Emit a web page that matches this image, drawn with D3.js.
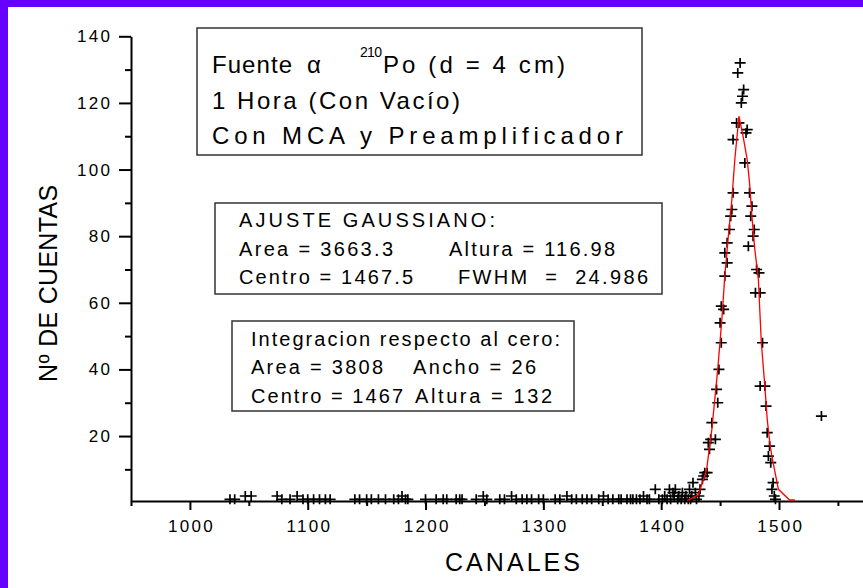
<!DOCTYPE html>
<html>
<head>
<meta charset="utf-8">
<script src="https://cdn.jsdelivr.net/npm/d3@7"></script>
<style>
  html, body { margin: 0; padding: 0; background: #fff; }
  svg { display: block; font-family: "Liberation Sans", Arial, sans-serif; }
  .lbl { white-space: pre; }
</style>
</head>
<body>
<svg id="chart" width="863" height="588"></svg>
<script>
// espectro alfa Po-210, cuentas por canal
var canal = [1034,1038,1047,1052,1074,1078,1085,1091,1096,1100,1105,1110,1115,1119,
  1140,1144,1150,1154,1160,1166,1173,1177,1180,1183,1185,1200,1209,1215,1218,1226,1229,1231,
  1243,1249,1252,1263,1267,1273,1277,1282,1286,1290,1296,1300,1310,1314,1320,1324,1328,1333,
  1337,1341,1347,1351,1355,1359,1364,1366,1371,1374,1376,1379,1382,1385,1388,1390,
  1395,1398,1401,1403,1405,1407,1408,1410,1411,1412,1414,1415,1417,1418,1420,1421,1423,1424,
  1425,1426,1427,1429,1430,1432,1433,1435,1436,1437,1439,1440,1441,1442,1443,1446,1447,1448,
  1449,1450,1451,1451,1453,1454,1454,1456,1456,1458,1459,1460,1461,1461,1464,1465,1466,1467,
  1468,1469,1470,1471,1472,1473,1474,1475,1476,1477,1478,1479,1480,1481,1483,1484,1486,1484,
  1488,1489,1490,1491,1492,1493,1494,1495,1496,1497,1536];
var cuentas = [1,1,2,2,2,1,1,2,1,1,1,1,1,1,
  1,1,1,1,1,1,1,1,2,1,1,1,1,1,1,1,1,1,
  1,2,1,1,1,2,1,1,1,1,1,1,1,1,2,1,1,1,
  1,1,1,2,1,1,1,1,1,1,1,1,1,2,1,1,
  4,1,1,2,1,4,1,3,2,4,1,2,1,3,1,2,1,4,
  1,2,6,3,1,2,4,7,8,9,9,18,16,19,24,19,34,30,
  40,54,48,59,58,68,75,72,78,82,86,88,93,109,114,129,114,132,
  120,122,124,102,111,112,77,93,86,89,80,82,63,70,69,63,48,35,
  35,29,21,14,17,12,4,6,2,1,26];

// curva del ajuste gaussiano
var ajusteCanal = [1422,1431.5,1438.5,1443,1448,1451.5,1454,1457,1460,1462.5,1466,
  1469.5,1473,1475,1477,1479.5,1482.5,1485,1488,1490,1492.5,1495,1499.5,1509,1513.5];
var ajusteCuentas = [0.6,2.3,9.8,22,40,55,68,80,91,103,116,
  110,103,96,86,76,67,48,35,25,17,12,4,0.8,0.8];

var xMajor = [1000,1100,1200,1300,1400,1500];
var xMinor = [950,1050,1150,1250,1350,1450,1550];
var yMajor = [20,40,60,80,100,120,140];
var yMinor = [10,30,50,70,90,110,130];

var svg = d3.select("#chart");

svg.append("rect").attr("width",863).attr("height",588).attr("fill","#fff");
svg.append("rect").attr("width",863).attr("height",7).attr("fill","#6600ff");
svg.append("rect").attr("width",8).attr("height",588).attr("fill","#6600ff");

var x = d3.scaleLinear().domain([950,1571.3]).range([131,863]);
var y = d3.scaleLinear().domain([0.5,140]).range([501,36.3]);

// cajas de texto
function caja(x0,y0,w,h){
    svg.append("rect")
        .attr("x",x0).attr("y",y0)
        .attr("width",w).attr("height",h)
        .attr("fill","#fff")
        .attr("stroke","#333")
        .attr("stroke-width",1.5);
}
function texto(t,x0,y0,size,len){
    var s = svg.append("text")
        .attr("class","lbl")
        .attr("x",x0).attr("y",y0)
        .attr("font-size",size+"px")
        .attr("fill","#000")
        .text(t);
    if(len) s.attr("textLength",len).attr("lengthAdjust","spacing");
    return s;
}

caja(197,28,445,127);
texto("Fuente",212,73,24,80);
texto("\u03b1",307,73,24);
texto("210",360,57,14,22);
texto("Po (d = 4 cm)",383,73,24,182);
texto("1 Hora (Con Vac\u00edo)",212,109,24,248);
texto("Con MCA y Preamplificador",212,144,24,411);

caja(215,203,447,91);
texto("AJUSTE GAUSSIANO:",239,227,20,256);
texto("Area = 3663.3",239,256,20,154);
texto("Altura = 116.98",449,256,20,166);
texto("Centro = 1467.5",239,284,20,174);
texto("FWHM  =  24.986",458,284,20,190);

caja(232,321,342,90);
texto("Integracion respecto al cero:",251,346,20,309);
texto("Area = 3808",251,374,20,132);
texto("Ancho = 26",413,374,20,123);
texto("Centro = 1467",251,403,20,152);
texto("Altura = 132",415,403,20,137);

// ejes
var fmt = d3.format("d");
var gx = svg.append("g").attr("transform","translate(0,501)");
gx.call(d3.axisBottom(x).tickValues(xMajor).tickFormat(fmt).tickSize(9).tickPadding(9.6).tickSizeOuter(0));
var gxm = svg.append("g").attr("transform","translate(0,501)");
gxm.call(d3.axisBottom(x).tickValues(xMinor).tickSize(5).tickFormat("").tickSizeOuter(0));
gxm.select(".domain").remove();

var gy = svg.append("g").attr("transform","translate(131,0)");
gy.call(d3.axisLeft(y).tickValues(yMajor).tickFormat(fmt).tickSize(12).tickPadding(9).tickSizeOuter(0));
var gym = svg.append("g").attr("transform","translate(131,0)");
gym.call(d3.axisLeft(y).tickValues(yMinor).tickSize(6).tickFormat("").tickSizeOuter(0));
gym.select(".domain").remove();

svg.selectAll(".domain").attr("stroke","#000").attr("stroke-width",2);
svg.selectAll(".tick line").attr("stroke","#000").attr("stroke-width",2);
svg.selectAll(".tick text")
    .attr("font-family","\"Liberation Sans\", Arial, sans-serif")
    .attr("font-size","17px")
    .attr("letter-spacing","2.3px")
    .attr("fill","#000");
gx.selectAll(".tick text").attr("dx","1.15");
gy.selectAll(".tick text").attr("dx","2.3");

// puntos
svg.append("g").selectAll("path")
    .data(canal)
    .enter()
    .append("path")
    .attr("d","M-5.5,0H5.5M0,-5V5")
    .attr("transform",function(d,i){
        return "translate(" + x(d) + "," + y(cuentas[i]) + ")";
    })
    .attr("stroke","#000")
    .attr("stroke-width",1.7)
    .attr("fill","none");

// ajuste
var linea = d3.line()
    .x(function(d){ return x(d); })
    .y(function(d,i){ return y(ajusteCuentas[i]); });
svg.append("path")
    .datum(ajusteCanal)
    .attr("d",linea)
    .attr("fill","none")
    .attr("stroke","#ff0000")
    .attr("stroke-width",1.3);

// titulos
texto("CANALES",445,571,25,135);
svg.append("text")
    .attr("class","lbl")
    .attr("transform","translate(57,283.4) rotate(-90)")
    .attr("x",-98.5).attr("y",0)
    .attr("font-size","25px")
    .attr("textLength",197)
    .attr("lengthAdjust","spacing")
    .text("N\u00ba DE CUENTAS");
</script>
</body>
</html>
